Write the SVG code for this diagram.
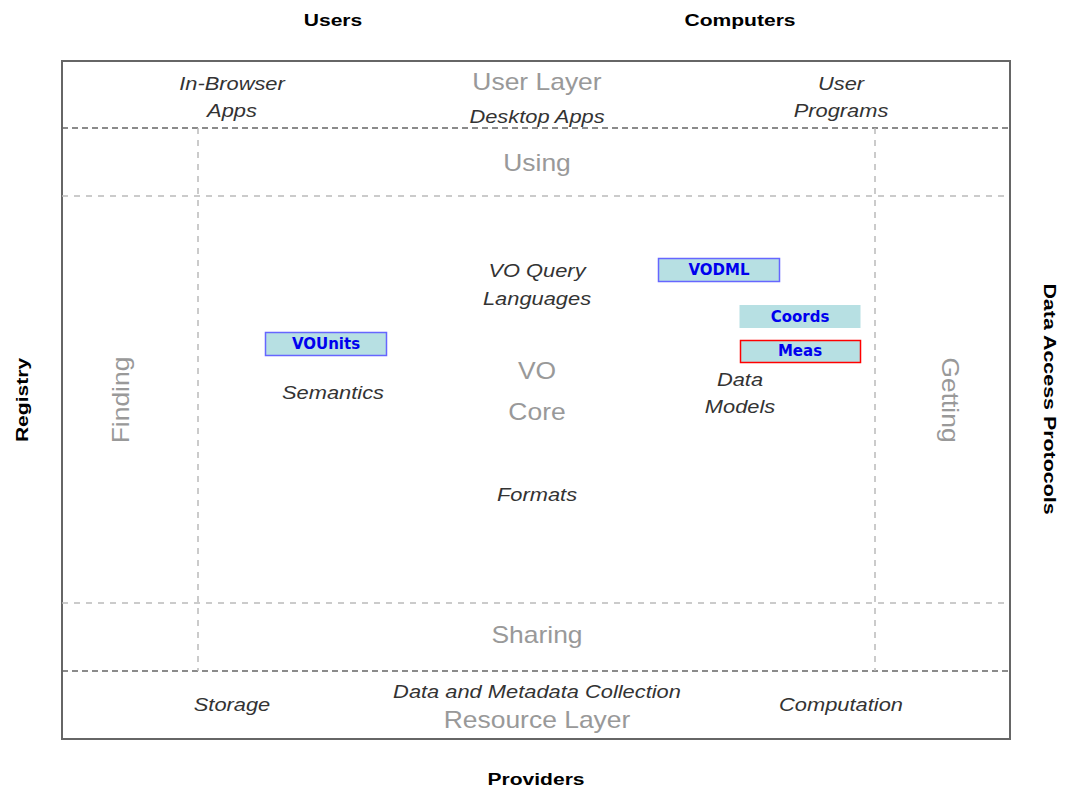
<svg xmlns="http://www.w3.org/2000/svg" width="1065" height="792" viewBox="0 0 1065 792">
<style>
  .frame { fill: #ffffff; stroke: #666666; stroke-width: 2; }
  .band { stroke: #666666; stroke-width: 1.5; stroke-dasharray: 6 4; fill: none; }
  .area { stroke: #bbbbbb; stroke-width: 1.5; stroke-dasharray: 6 6; fill: none; }
  .edge { font-family: "Liberation Sans", Arial, sans-serif; font-weight: bold; font-size: 17px; fill: #000000; text-anchor: middle; }
  .layer { font-family: "Liberation Sans", Arial, sans-serif; font-size: 23px; fill: #999999; text-anchor: middle; }
  .item { font-family: "Liberation Sans", Arial, sans-serif; font-style: italic; font-size: 19px; fill: #333333; text-anchor: middle; }
  .std { fill: #b7e0e3; stroke-width: 1.5; }
  .stdlabel { font-family: "DejaVu Sans", sans-serif; font-weight: bold; font-size: 15px; fill: #0000ee; text-anchor: middle; }
</style>

<!-- outer frame -->
<rect id="frame" class="frame" x="62" y="61" width="948" height="678"/>

<!-- layer and area separators -->
<g id="separators">
  <line class="band" x1="62" y1="128" x2="1010" y2="128"/>
  <line class="band" x1="62" y1="671" x2="1010" y2="671"/>
  <line class="area" x1="62" y1="196" x2="1010" y2="196"/>
  <line class="area" x1="62" y1="603" x2="1010" y2="603"/>
  <line class="area" x1="198" y1="128" x2="198" y2="671"/>
  <line class="area" x1="875" y1="128" x2="875" y2="671"/>
</g>

<!-- edge labels (wide-set lettering) -->
<g id="edges">
  <text class="edge" transform="translate(333 26) scale(1.24 1)">Users</text>
  <text class="edge" transform="translate(740 26) scale(1.24 1)">Computers</text>
  <text class="edge" transform="translate(536 785) scale(1.24 1)">Providers</text>
  <text class="edge" transform="translate(28 400) rotate(-90) scale(1.24 1)">Registry</text>
  <text class="edge" transform="translate(1044 399) rotate(90) scale(1.26 1)">Data Access Protocols</text>
</g>

<!-- user layer -->
<g id="user-layer">
  <text class="layer" transform="translate(537 90) scale(1.15 1)">User Layer</text>
  <text class="item" transform="translate(232 90) scale(1.15 1)">In-Browser</text>
  <text class="item" transform="translate(232 117) scale(1.15 1)">Apps</text>
  <text class="item" transform="translate(537 123) scale(1.15 1)">Desktop Apps</text>
  <text class="item" transform="translate(841 90) scale(1.15 1)">User</text>
  <text class="item" transform="translate(841 117) scale(1.15 1)">Programs</text>
</g>

<!-- activity areas -->
<g id="areas">
  <text class="layer" transform="translate(537 171) scale(1.15 1)">Using</text>
  <text class="layer" transform="translate(537 643) scale(1.15 1)">Sharing</text>
  <text class="layer" transform="translate(129 400) rotate(-90) scale(1.15 1)">Finding</text>
  <text class="layer" transform="translate(942 400) rotate(90) scale(1.15 1)">Getting</text>
</g>

<!-- core -->
<g id="core">
  <text class="layer" transform="translate(537 379) scale(1.15 1)">VO</text>
  <text class="layer" transform="translate(537 420) scale(1.15 1)">Core</text>
  <text class="item" transform="translate(537 277) scale(1.15 1)">VO Query</text>
  <text class="item" transform="translate(537 305) scale(1.15 1)">Languages</text>
  <text class="item" transform="translate(333 399) scale(1.15 1)">Semantics</text>
  <text class="item" transform="translate(537 501) scale(1.15 1)">Formats</text>
  <text class="item" transform="translate(740 386) scale(1.15 1)">Data</text>
  <text class="item" transform="translate(740 413) scale(1.15 1)">Models</text>
</g>

<!-- resource layer -->
<g id="resource-layer">
  <text class="layer" transform="translate(537 728) scale(1.15 1)">Resource Layer</text>
  <text class="item" transform="translate(537 698) scale(1.15 1)">Data and Metadata Collection</text>
  <text class="item" transform="translate(232 711) scale(1.15 1)">Storage</text>
  <text class="item" transform="translate(841 711) scale(1.15 1)">Computation</text>
</g>

<!-- standards -->
<g id="vounits">
  <rect class="std" x="265.5" y="332.5" width="121" height="23" stroke="#6666ff"/>
  <text class="stdlabel" x="326" y="349">VOUnits</text>
</g>
<g id="vodml">
  <rect class="std" x="658.5" y="258.5" width="121" height="23" stroke="#6666ff"/>
  <text class="stdlabel" x="719" y="275">VODML</text>
</g>
<g id="coords">
  <rect class="std" x="739.5" y="305" width="121" height="23" stroke="none"/>
  <text class="stdlabel" x="800" y="322">Coords</text>
</g>
<g id="meas">
  <rect class="std" x="740.5" y="340.5" width="120" height="22" stroke="#ff0000" stroke-width="2"/>
  <text class="stdlabel" x="800" y="356">Meas</text>
</g>
</svg>
